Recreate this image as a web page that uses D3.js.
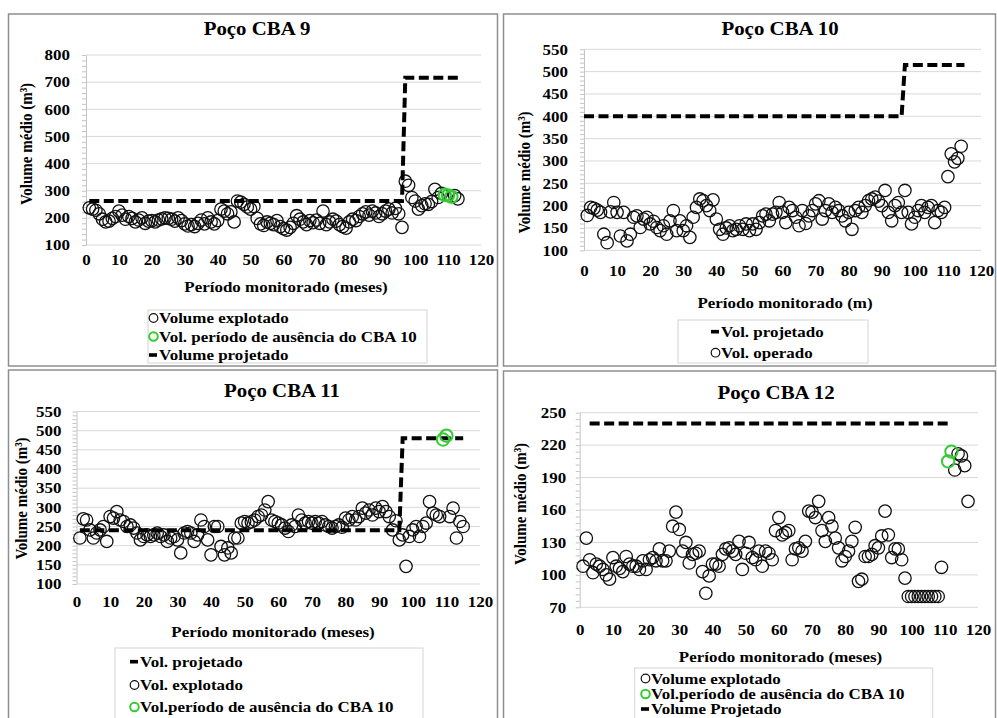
<!DOCTYPE html>
<html>
<head>
<meta charset="utf-8">
<script src="https://cdn.jsdelivr.net/npm/d3@7"></script>
<style>
  body { margin: 0; background: #fff; }
  text { font-family: "Liberation Serif", "Times New Roman", serif; font-weight: bold; font-size: 15px; fill: #000; }
</style>
</head>
<body>
<svg id="chart" width="997" height="718"></svg>
<script>
// ---- data (month index = position + 1, null = no black point that month) ----
var xTicks = [0, 10, 20, 30, 40, 50, 60, 70, 80, 90, 100, 110, 120];

var cba9Vol = [237,232,228,215,195,185,188,198,205,225,
  210,195,205,198,185,192,200,180,188,190,
  185,192,196,200,198,195,188,200,190,178,
  170,175,168,180,192,178,200,185,178,190,
  232,225,215,222,185,262,258,250,240,232,
  242,198,178,172,185,180,175,190,168,160,
  155,165,180,208,195,185,175,190,182,192,
  180,225,175,185,195,188,175,168,162,185,
  195,190,205,215,222,210,225,218,205,215,
  225,232,218,235,215,165,335,320,275,262,
  232,245,252,250,260,305,275,290,null,null,
  null,282,270];
var cba9GreenMonths = [109, 110, 111];
var cba9GreenVol = [285, 283, 278];
var cba9ProjMonths = [1, 96, 97, 113];
var cba9ProjVol = [262, 262, 716, 716];

var cba10Vol = [178,196,194,190,185,136,117,186,207,185,
  132,185,121,136,174,177,151,170,174,159,
  165,151,144,155,136,166,189,144,166,144,
  155,129,174,196,215,211,200,189,213,170,
  147,136,150,155,144,147,155,147,159,144,
  159,147,162,177,181,166,181,185,207,185,
  162,196,189,174,155,189,160,177,189,204,
  211,170,189,204,185,196,189,177,166,185,
  147,189,196,185,200,211,215,219,210,200,
  234,185,166,200,207,185,234,185,159,174,
  189,200,185,196,200,162,189,185,196,265,
  316,298,306,333];
var cba10ProjMonths = [0, 96, 97, 115];
var cba10ProjVol = [400, 400, 515, 515];

var cba11Vol = [220,270,267,241,220,233,241,250,211,276,
  272,289,267,263,250,254,246,233,215,224,
  228,224,228,233,224,228,211,220,224,215,
  181,233,237,233,211,228,267,250,215,176,
  250,250,198,176,194,181,220,220,259,263,
  259,262,267,276,280,293,315,267,263,259,
  254,246,237,254,250,280,267,259,263,259,
  263,259,263,254,250,246,250,254,248,272,
  267,276,267,276,298,285,293,280,298,289,
  302,289,276,241,265,215,228,146,224,241,
  250,224,250,259,315,285,280,276,null,null,
  276,298,220,263,250];
var cba11GreenMonths = [109, 110];
var cba11GreenVol = [477, 487];
var cba11ProjMonths = [1, 96, 97, 115];
var cba11ProjVol = [240, 240, 480, 480];

var cba12Vol = [108,134,114,102,110,108,105,100,96,116,
  108,106,103,117,110,108,108,105,113,105,
  114,116,113,124,113,113,122,145,158,142,
  122,130,111,119,120,122,103,83,99,110,
  110,108,119,124,125,122,119,131,105,120,
  130,116,114,122,108,122,120,114,141,153,
  137,139,141,114,124,125,122,131,159,158,
  153,168,141,131,153,145,134,125,113,117,
  122,131,144,94,96,117,117,119,127,125,
  136,159,137,116,124,124,114,97,80,80,
  80,80,80,80,80,80,80,80,107,null,
  null,null,197,212,210,201,168];
var cba12GreenMonths = [111, 112];
var cba12GreenVol = [205, 214];
var cba12ProjMonths = [3, 112];
var cba12ProjVol = [240, 240];

var GREEN = "#33cc33";
var STRETCH = 1.13;
var R = 6.2;

var svg = d3.select("#chart");

function label(g, x, y, s, size, anchor) {
  return g.append("text")
    .attr("transform", "translate(" + x + "," + y + ") scale(" + STRETCH + ",1)")
    .attr("text-anchor", anchor || "middle")
    .style("font-size", size + "px")
    .text(s);
}

function drawPanel(p) {
  var g = svg.append("g");

  g.append("rect")
    .attr("x", p.box[0]).attr("y", p.box[1])
    .attr("width", p.box[2]).attr("height", p.box[3])
    .attr("fill", "none").attr("stroke", "#8f8f8f").attr("stroke-width", 1.5);

  var x = d3.scaleLinear().domain([0, 120]).range([p.left, p.right]);
  var y = d3.scaleLinear().domain(p.yDomain).range([p.bottom, p.top]);
  var major = d3.range(p.yDomain[0], p.yDomain[1] + 0.1, p.yStep);

  // horizontal gridlines
  g.append("g").selectAll("line").data(major).join("line")
    .attr("x1", x(0)).attr("x2", x(120))
    .attr("y1", function(d) { return y(d); })
    .attr("y2", function(d) { return y(d); })
    .attr("stroke", "#d9d9d9").attr("stroke-width", 1);

  // left axis line with minor ticks
  g.append("g")
    .attr("transform", "translate(" + x(0) + ",0)")
    .attr("color", "#c4c4c4")
    .call(d3.axisLeft(y)
      .tickValues(d3.range(p.yDomain[0], p.yDomain[1] + 0.1, p.yStep / 5))
      .tickSize(4).tickSizeOuter(0).tickFormat(""));

  // y tick labels
  var ya = g.append("g")
    .attr("transform", "translate(" + x(0) + ",0)")
    .call(d3.axisLeft(y).tickValues(major).tickSize(0).tickPadding(p.yPad / STRETCH));
  ya.select(".domain").remove();
  ya.attr("font-size", null).attr("font-family", null);
  ya.selectAll("text").attr("transform", "scale(" + STRETCH + ",1)");

  // x tick labels
  var xa = g.append("g")
    .attr("transform", "translate(0," + p.xLabelY + ")")
    .call(d3.axisBottom(x).tickValues(xTicks).tickSize(0).tickPadding(0));
  xa.select(".domain").remove();
  xa.attr("font-size", null).attr("font-family", null);
  xa.selectAll("text").attr("y", 0).attr("dy", null)
    .attr("transform", "scale(" + STRETCH + ",1)");

  // titles
  label(g, p.title[0], p.title[1], p.title[2], 18.5);
  label(g, p.xTitle[0], p.xTitle[1], p.xTitle[2], 15);
  g.append("text")
    .attr("transform", "translate(" + p.yTitle[0] + "," + p.yTitle[1] + ") rotate(-90) scale(1," + STRETCH + ")")
    .attr("text-anchor", "middle")
    .style("font-size", "15px")
    .text("Volume médio (m³)");

  // black points
  var pts = p.vol.map(function(v, i) { return { m: i + 1, v: v }; })
    .filter(function(d) { return d.v != null; });
  g.append("g").selectAll("circle").data(pts).join("circle")
    .attr("cx", function(d) { return x(d.m); })
    .attr("cy", function(d) { return y(d.v); })
    .attr("r", R)
    .attr("fill", "none").attr("stroke", "#111").attr("stroke-width", 1.3);

  // projected volume
  var proj = p.projM.map(function(m, i) { return [m, p.projV[i]]; });
  g.append("path").datum(proj)
    .attr("d", d3.line().x(function(d) { return x(d[0]); }).y(function(d) { return y(d[1]); }))
    .attr("fill", "none").attr("stroke", "#000").attr("stroke-width", 4)
    .attr("stroke-dasharray", "10,4.5");

  // green points
  if (p.greenM) {
    var gp = p.greenM.map(function(m, i) { return { m: m, v: p.greenV[i] }; });
    g.append("g").selectAll("circle").data(gp).join("circle")
      .attr("cx", function(d) { return x(d.m); })
      .attr("cy", function(d) { return y(d.v); })
      .attr("r", R)
      .attr("fill", "none").attr("stroke", GREEN).attr("stroke-width", 2);
  }

  // legend
  var lg = g.append("g");
  lg.append("rect")
    .attr("x", p.legend.box[0]).attr("y", p.legend.box[1])
    .attr("width", p.legend.box[2]).attr("height", p.legend.box[3])
    .attr("fill", "#fff").attr("stroke", "#d4d4d4");
  p.legend.items.forEach(function(it) {
    if (it.sym === "circle") {
      lg.append("circle").attr("cx", it.x + 4.5).attr("cy", it.y).attr("r", 4.3)
        .attr("fill", "none").attr("stroke", it.color).attr("stroke-width", it.color === GREEN ? 2 : 1.2);
    } else {
      lg.append("rect").attr("x", it.x).attr("y", it.y - 1.8).attr("width", 8).attr("height", 3.6)
        .attr("fill", "#000");
    }
    label(lg, it.x + 10, it.y + 5, it.text, 15, "start");
  });
}

var panels = [
  {
    box: [8.5, 14, 489, 352],
    left: 86, right: 481, yDomain: [100, 800], yStep: 100, top: 55, bottom: 245,
    yPad: 16, xLabelY: 265,
    title: [257, 35, "Poço CBA 9"],
    xTitle: [286, 292, "Período monitorado (meses)"],
    yTitle: [32, 144],
    vol: cba9Vol, greenM: cba9GreenMonths, greenV: cba9GreenVol,
    projM: cba9ProjMonths, projV: cba9ProjVol,
    legend: { box: [148, 310, 279, 53], items: [
      { sym: "circle", color: "#111", text: "Volume explotado", x: 149, y: 318 },
      { sym: "circle", color: GREEN, text: "Vol. período de ausência do CBA 10", x: 149, y: 336.5 },
      { sym: "dash", text: "Volume projetado", x: 149, y: 355 }
    ] }
  },
  {
    box: [503.5, 14, 492, 352],
    left: 584, right: 981, yDomain: [100, 550], yStep: 50, top: 49.3, bottom: 250.3,
    yPad: 16, xLabelY: 276,
    title: [780, 35, "Poço CBA 10"],
    xTitle: [785, 308, "Período monitorado (m)"],
    yTitle: [529.5, 172.5],
    vol: cba10Vol,
    projM: cba10ProjMonths, projV: cba10ProjVol,
    legend: { box: [678, 320, 190, 43], items: [
      { sym: "dash", text: "Vol. projetado", x: 711, y: 331.7 },
      { sym: "circle", color: "#111", text: "Vol. operado", x: 711, y: 352.7 }
    ] }
  },
  {
    box: [8.5, 370, 489, 360],
    left: 76.5, right: 480, yDomain: [100, 550], yStep: 50, top: 411.5, bottom: 584,
    yPad: 15, xLabelY: 607,
    title: [282, 397, "Poço CBA 11"],
    xTitle: [273, 637, "Período monitorado (meses)"],
    yTitle: [26.5, 498.5],
    vol: cba11Vol, greenM: cba11GreenMonths, greenV: cba11GreenVol,
    projM: cba11ProjMonths, projV: cba11ProjVol,
    legend: { box: [115, 648, 308, 80], items: [
      { sym: "dash", text: "Vol. projetado", x: 130, y: 661.7 },
      { sym: "circle", color: "#111", text: "Vol. explotado", x: 130, y: 685 },
      { sym: "circle", color: GREEN, text: "Vol.período de ausência do CBA 10", x: 130, y: 707 }
    ] }
  },
  {
    box: [503.5, 371, 492, 360],
    left: 579.7, right: 978, yDomain: [70, 250], yStep: 30, top: 412.7, bottom: 607.3,
    yPad: 13.5, xLabelY: 635,
    title: [776, 399, "Poço CBA 12"],
    xTitle: [780.5, 662, "Período monitorado (meses)"],
    yTitle: [526, 504],
    vol: cba12Vol, greenM: cba12GreenMonths, greenV: cba12GreenVol,
    projM: cba12ProjMonths, projV: cba12ProjVol,
    legend: { box: [634.7, 668, 298, 60], items: [
      { sym: "circle", color: "#111", text: "Volume explotado", x: 641, y: 678.5 },
      { sym: "circle", color: GREEN, text: "Vol.período de ausência do CBA 10", x: 641, y: 694 },
      { sym: "dash", text: "Volume Projetado", x: 641, y: 709 }
    ] }
  }
];

panels.forEach(drawPanel);
</script>
</body>
</html>
